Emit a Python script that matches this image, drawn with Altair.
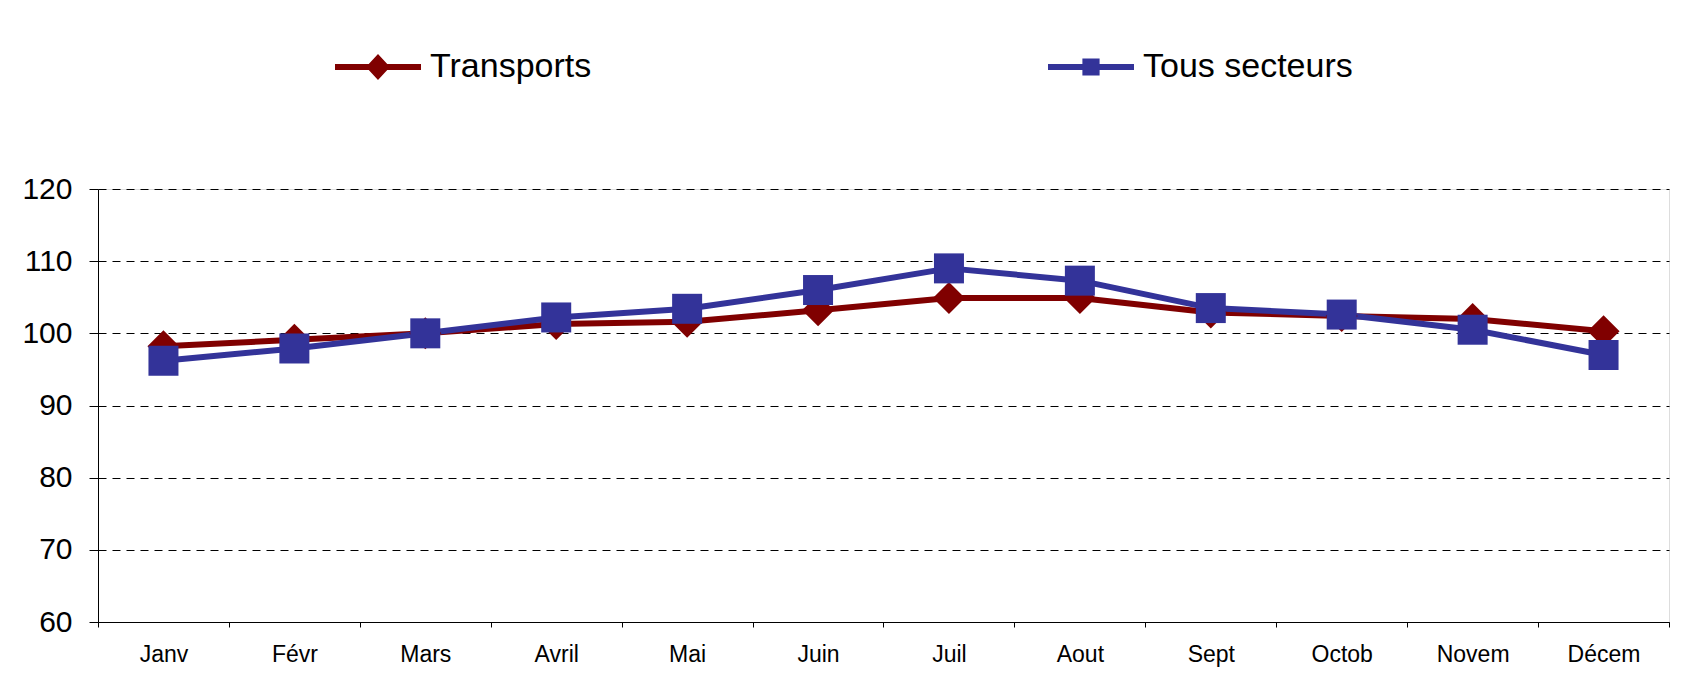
import altair as alt
import pandas as pd

# ---- data ----
months = ["Janv", "Févr", "Mars", "Avril", "Mai", "Juin",
          "Juil", "Aout", "Sept", "Octob", "Novem", "Décem"]
transports = [98.2, 99.1, 100.0, 101.3, 101.6, 103.2, 104.9, 104.9, 102.9, 102.4, 102.0, 100.3]
tous_secteurs = [96.2, 97.9, 100.0, 102.2, 103.4, 106.0, 109.0, 107.3, 103.5, 102.6, 100.5, 97.0]
series_names = ["Transports", "Tous secteurs"]
series_colors = ["#800000", "#333399"]
y_ticks = [60, 70, 80, 90, 100, 110, 120]

rows = []
for name, vals in zip(series_names, [transports, tous_secteurs]):
    for m, v in zip(months, vals):
        rows.append({"mois": m, "valeur": v, "serie": name})
df = pd.DataFrame(rows)

FONT = "Liberation Sans"

x_enc = alt.X(
    "mois:N",
    sort=months,
    bandPosition=0.5,
    scale=alt.Scale(type="band", domain=months, paddingInner=0, paddingOuter=0),
    axis=alt.Axis(
        title=None, labelAngle=0, tickBand="extent", tickSize=5, tickColor="black",
        domainColor="black", domainWidth=1, labelFont=FONT, labelFontSize=23,
        labelColor="black", labelPadding=16, grid=False,
    ),
)
y_enc = alt.Y(
    "valeur:Q",
    scale=alt.Scale(domain=[60, 120], nice=False, zero=False),
    axis=alt.Axis(
        title=None, values=y_ticks, grid=True, gridDash=[8, 6], gridColor="black",
        gridOpacity=1, gridWidth=1, domainColor="black", domainWidth=1,
        tickColor="black", tickSize=9, labelFont=FONT, labelFontSize=30,
        labelColor="black", labelPadding=17,
    ),
)
color_scale = alt.Scale(domain=series_names, range=series_colors)

lines = alt.Chart(df).mark_line(strokeWidth=6, strokeJoin="round").encode(
    x=x_enc, y=y_enc,
    color=alt.Color("serie:N", scale=color_scale, legend=None),
)

points = alt.Chart(df).mark_point(filled=True, opacity=1, strokeWidth=0).encode(
    x=x_enc, y=y_enc,
    color=alt.Color("serie:N", scale=color_scale, legend=None),
    shape=alt.Shape("serie:N", scale=alt.Scale(domain=series_names, range=["diamond", "square"]), legend=None),
    size=alt.Size("serie:N", scale=alt.Scale(domain=series_names, range=[1024, 900]), legend=None),
)

# legend symbols: line with marker, as custom unit paths
diamond_line = ("M-1,-0.07L-0.215,-0.07L0,-0.3L0.215,-0.07L1,-0.07L1,0.07"
                "L0.215,0.07L0,0.3L-0.215,0.07L-1,0.07Z")
square_line = ("M-1,-0.07L-0.2,-0.07L-0.2,-0.2L0.2,-0.2L0.2,-0.07L1,-0.07L1,0.07"
               "L0.2,0.07L0.2,0.2L-0.2,0.2L-0.2,0.07L-1,0.07Z")

legend_props = dict(
    title=None, orient="none", direction="horizontal", legendX=237, legendY=-165,
    symbolSize=7396, labelFont=FONT, labelFontSize=34, labelColor="black",
    labelOffset=9, labelLimit=500, columnPadding=456, padding=0,
    symbolStrokeWidth=0, symbolOpacity=1,
)

legend_layer = alt.Chart(df).transform_filter("false").mark_point(filled=True, opacity=1, strokeWidth=0).encode(
    x=x_enc, y=y_enc,
    color=alt.Color("serie:N", scale=color_scale, legend=alt.Legend(**legend_props)),
    shape=alt.Shape("serie:N", scale=alt.Scale(domain=series_names, range=[diamond_line, square_line]),
                    legend=alt.Legend(**legend_props)),
)

chart = alt.layer(lines, points, legend_layer).resolve_scale(
    color="independent", shape="independent"
).properties(
    width=1571, height=433,
    autosize=alt.AutoSizeParams(type="none"),
    padding={"left": 90, "top": 181, "right": 17, "bottom": 46},
).configure_view(stroke=None).configure(background="white")

chart.save("out.html", embed_options={"renderer": "svg", "actions": False})
